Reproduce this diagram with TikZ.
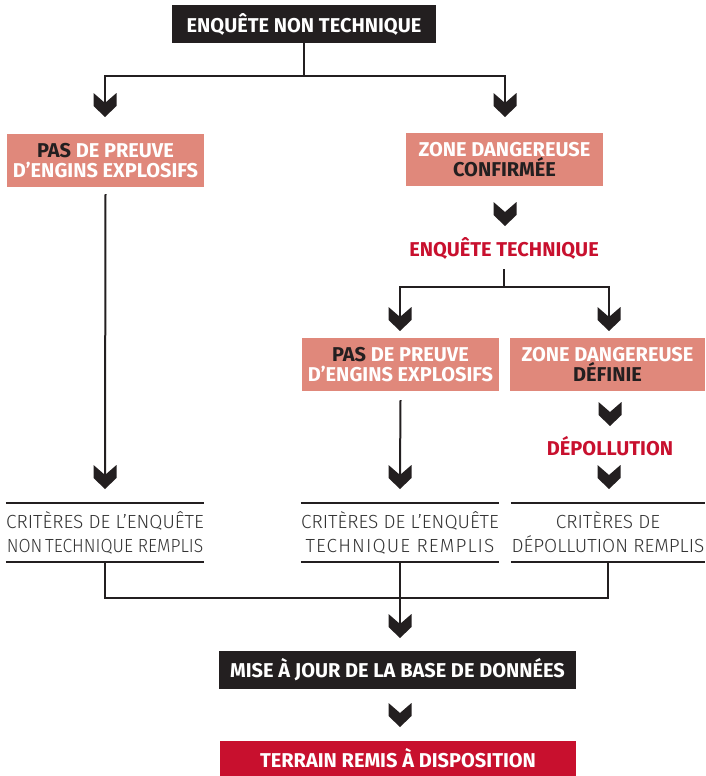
\documentclass[tikz,border=0pt]{standalone}
\usepackage{fontspec}
\setmainfont{Fira Sans}
\newfontfamily\critfont{Fira Sans Light}
\definecolor{dark}{HTML}{231F20}
\definecolor{salmon}{HTML}{E0887B}
\definecolor{crimson}{HTML}{C8102E}
\definecolor{critgray}{HTML}{333333}
\tikzset{
  base/.style={inner sep=0pt, font=\bfseries\fontsize{20}{20}\selectfont, align=center},
  blackbox/.style={base, fill=dark, text=white, minimum height=38pt},
  salmonbox/.style={base, fill=salmon, text=white, minimum width=197pt, minimum height=53pt},
  redlabel/.style={base, text=crimson, minimum height=42pt},
  crit/.style={inner sep=0pt, font=\critfont\fontsize{19}{24}\selectfont, text=critgray, align=center, minimum width=196pt, minimum height=59pt},
  conn/.style={draw=dark, line width=2pt},
  rulestyle/.style={draw=dark, line width=2.3pt},
  chev/.pic={\fill[dark] (-11.5,-10) -- (0,0) -- (11.5,-10) -- (11.5,3) -- (0,14) -- (-11.5,3) -- cycle;}
}
\begin{document}
\begin{tikzpicture}[x=1pt,y=-1pt]
\useasboundingbox (0,0) rectangle (705,776);
% nodes
\node[blackbox, minimum width=264pt] (top) at (304,24) {ENQUÊTE NON TECHNIQUE};
\node[salmonbox] (l1) at (105.5,160.5) {{\color{dark}PAS} DE PREUVE\\D’ENGINS EXPLOSIFS};
\node[salmonbox] (r1) at (504.5,159.5) {ZONE DANGEREUSE\\{\color{dark}CONFIRMÉE}};
\node[redlabel] (et) at (504,248) {ENQUÊTE TECHNIQUE};
\node[salmonbox] (m2) at (400.5,364.5) {{\color{dark}PAS} DE PREUVE\\D’ENGINS EXPLOSIFS};
\node[salmonbox, minimum width=195pt] (r2) at (607.5,364.5) {ZONE DANGEREUSE\\{\color{dark}DÉFINIE}};
\node[base, text=crimson] (dep) at (610,446) {DÉPOLLUTION};
\node[crit] (c1) at (105,532.5) {CRITÈRES DE L’ENQUÊTE\\\scalebox{0.92}[1]{NON\hspace{3pt}TECHNIQUE REMPLIS}};
\node[crit] (c2) at (400,532.5) {CRITÈRES DE L’ENQUÊTE\\{\addfontfeature{LetterSpace=6}TECHNIQUE REMPLIS}};
\node[crit, minimum width=194pt] (c3) at (608,532.5) {CRITÈRES DE\\DÉPOLLUTION REMPLIS};
\node[blackbox, minimum width=357pt] (maj) at (397.5,670) {MISE À JOUR DE LA BASE DE DONNÉES};
\node[base, fill=crimson, text=white, minimum width=356pt, minimum height=35pt] (ter) at (398,758.5) {TERRAIN REMIS À DISPOSITION};
% criteria rules
\foreach \c in {c1,c2,c3}{
  \draw[rulestyle] (\c.north west) -- (\c.north east);
  \draw[rulestyle] (\c.south west) -- (\c.south east);
}
% chevron notch points
\coordinate (n1) at (105,103);
\coordinate (n2) at (505,103);
\coordinate (n3) at (505,212);
\coordinate (n4) at (400,317);
\coordinate (n5) at (609,317);
\coordinate (n6) at (610,412);
\coordinate (n7) at (105,475);
\coordinate (n8) at (400,475);
\coordinate (n9) at (609,475);
\coordinate (n10) at (400,624);
\coordinate (n11) at (400,713);
\coordinate (tj) at (304,76);
\coordinate (ej) at (504,287);
\coordinate (jn) at (400,598);
% connectors
\draw[conn] (top.south) -- (tj) -| (n1);
\draw[conn] (tj) -| (n2);
\draw[conn] (et.south) -- (ej) -| (n4);
\draw[conn] (ej) -| (n5);
\draw[conn] ([yshift=-7pt]l1.south) -- (n7);
\draw[conn] ([yshift=-9pt]m2.south) -- (n8);
\draw[conn] (c1.south) |- (jn) -| (c3.south);
\draw[conn] (c2.south) -- (jn) -- (n10);
% chevrons
\foreach \n in {n1,n2,n3,n4,n5,n6,n7,n8,n9,n10,n11}{
  \pic at (\n) {chev};
}
\end{tikzpicture}
\end{document}
